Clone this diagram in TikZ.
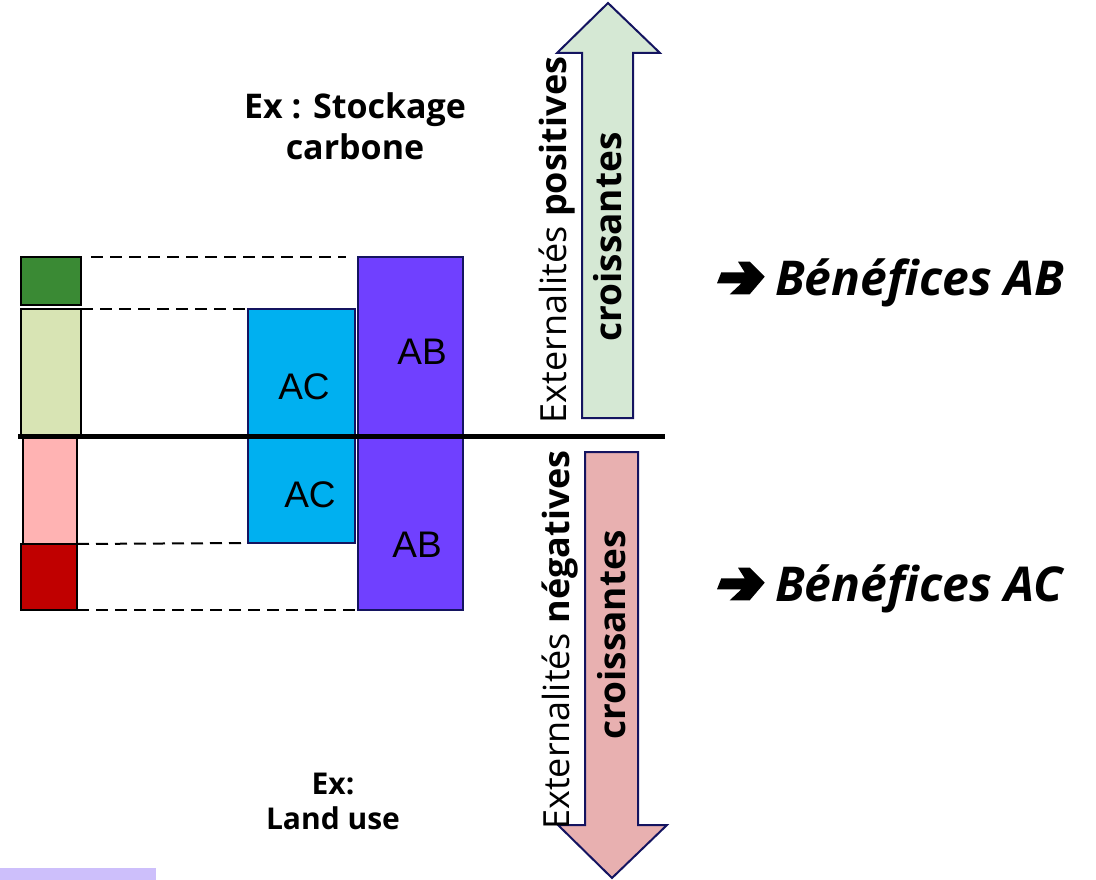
\documentclass[tikz,border=0pt]{standalone}
\usepackage{fontspec}
\setmainfont{Open Sans}
\newfontfamily\boxfont{Liberation Sans}
\definecolor{dkgreen}{HTML}{3A8A34}
\definecolor{ltgreen}{HTML}{D8E4B4}
\definecolor{ltpink}{HTML}{FFB3B3}
\definecolor{dkred}{HTML}{C00000}
\definecolor{accyan}{HTML}{00B0F0}
\definecolor{abviolet}{HTML}{7040FF}
\definecolor{navy}{HTML}{141460}
\definecolor{upfill}{HTML}{D5E8D4}
\definecolor{downfill}{HTML}{E8B0B0}
\definecolor{strip}{HTML}{CDBFFB}
\begin{document}
\begin{tikzpicture}[x=1pt,y=-1pt,
  bar/.style={draw=black, line width=2pt, inner sep=0pt, outer sep=0pt, anchor=north west},
  agent/.style={draw=navy, line width=2pt, inner sep=0pt, outer sep=0pt, anchor=north west},
  agentlabel/.style={font=\boxfont\fontsize{37}{40}\selectfont},
  guide/.style={line width=2pt, dash pattern=on 12pt off 7pt},
  bigarrow/.style={draw=navy, line width=2pt, line join=miter},
  vlabel/.style={rotate=90, inner sep=0pt, font=\fontsize{36}{40}\selectfont},
  vbold/.style={rotate=90, inner sep=0pt, font=\bfseries\fontsize{37}{40}\selectfont},
  ex/.style={align=center, font=\bfseries\fontsize{34}{41}\selectfont},
  benefit/.style={anchor=base west, inner sep=0pt, font=\bfseries\itshape\fontsize{48}{52}\selectfont},
  pointer/.pic={\fill (-4.7,-4.7) -- (18.7,-4.7) -- (12,-15.3) -- (23.7,-15.3) -- (38.7,-0.3)
    -- (23.7,17.3) -- (3.7,17.3) -- (15.4,6.3) -- (-9,6.3) -- cycle;}]
\useasboundingbox (0,0) rectangle (1096,880);

% value bars on the left
\node[bar, fill=dkgreen, minimum width=60pt, minimum height=48pt] (pg) at (21,257) {};
\node[bar, fill=ltgreen, minimum width=60pt, minimum height=126pt] (pl) at (21,309) {};
\node[bar, fill=ltpink, minimum width=54pt, minimum height=108pt] (nl) at (23,436) {};
\node[bar, fill=dkred, minimum width=56pt, minimum height=66pt] (nd) at (21,544) {};

% AC and AB blocks
\node[agent, fill=accyan, minimum width=107pt, minimum height=129pt] (acu) at (248,309) {};
\node[agent, fill=accyan, minimum width=107pt, minimum height=105pt] (acl) at (248,438) {};
\node[agent, fill=abviolet, minimum width=105pt, minimum height=179pt] (abu) at (358,257) {};
\node[agent, fill=abviolet, minimum width=105pt, minimum height=175pt] (abl) at (358,435) {};
\node[agentlabel] (tacu) at (304,387) {AC};
\node[agentlabel] (tacl) at (310,495) {AC};
\node[agentlabel] (tabu) at (422,352) {AB};
\node[agentlabel] (tabl) at (417,545) {AB};

% axis
\coordinate (axL) at (18,436);
\coordinate (axR) at (665,436);
\draw[line width=5pt] (axL) -- (axR);

% dashed guides
\draw[guide] ([xshift=10pt]pg.north east) -- ([xshift=-12pt]abu.north west);
\draw[guide] (pl.north east) -- (acu.north west);
\draw[guide] (nd.north east) -- (acl.south west);
\draw[guide] (nd.south east) -- (abl.south west);

% increasing externalities arrows
\draw[bigarrow, fill=upfill] (582,418) -- (582,53) -- (557,53) -- (608,3) -- (660,53)
  -- (633,53) -- (633,418) -- cycle;
\draw[bigarrow, fill=downfill] (585,452) -- (585,825) -- (558,825) -- (612,878) -- (667,825)
  -- (638,825) -- (638,452) -- cycle;

\node[vlabel] (lpos) at (557,240) {Externalités \textbf{positives}};
\node[vbold] (cpos) at (608,237) {croissantes};
\node[vlabel] (lneg) at (560,640) {Externalités \textbf{négatives}};
\node[vbold] (cneg) at (612,635) {croissantes};

% examples
\node[ex] (exs) at (355,126) {Ex : Stockage\\carbone};
\node[ex, font=\bfseries\fontsize{30}{35}\selectfont] (exl) at (333,801) {Ex:\\Land use};

% conclusions
\pic at (726,277) {pointer};
\node[benefit] (bab) at (775,295) {Bénéfices AB};
\pic at (726,583) {pointer};
\node[benefit] (bac) at (775,601) {Bénéfices AC};

% strip
\fill[strip] (0,868) rectangle (156,880);
\end{tikzpicture}
\end{document}
